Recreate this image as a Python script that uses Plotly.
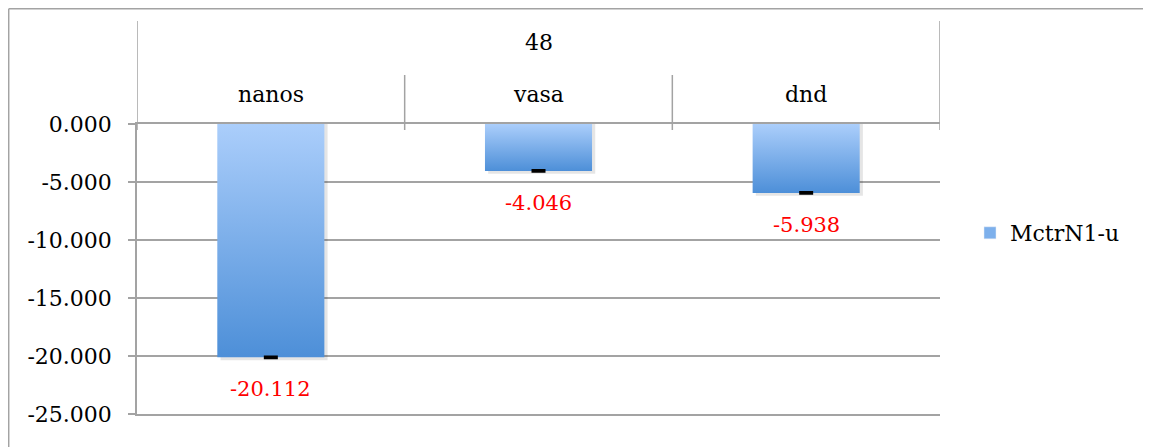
import plotly.graph_objects as go

# data
group_label = "48"
genes = ["nanos", "vasa", "dnd"]
values = [-20.112, -4.046, -5.938]
errors = [0.05, 0.05, 0.05]
series_name = "MctrN1-u"
y_ticks = [0, -5, -10, -15, -20, -25]

FONT = "DejaVu Serif"
GRID = "#a3a3a3"
OFF = 8  # page body margin
W, H = 1151 - OFF, 447 - OFF
L, R, T, B = 137 - OFF, 211, 124 - OFF, 33
PW, PH = W - L - R, H - T - B


def px_x(x):
    # page pixel -> paper x
    return (x - OFF - L) / PW


def px_y(y):
    # page pixel -> paper y
    return (H - B - (y - OFF)) / PH


fig = go.Figure()

half = 0.2
for i, (g, v) in enumerate(zip(genes, values)):
    # soft shadow
    fig.add_trace(go.Scatter(
        x=[i - half + 0.012, i - half + 0.012, i + half + 0.012, i + half + 0.012],
        y=[0, v - 0.25, v - 0.25, 0], fill="toself", mode="lines",
        line=dict(width=0), fillcolor="rgba(0,0,0,0.10)",
        hoverinfo="skip", showlegend=False))
    fig.add_trace(go.Scatter(
        x=[i - half, i - half, i + half, i + half],
        y=[0, v, v, 0], fill="toself", mode="lines",
        line=dict(width=0),
        fillgradient=dict(type="vertical",
                          colorscale=[[0, "#4d8fd8"], [1, "#abcefb"]]),
        name=series_name, showlegend=False, hoverinfo="skip"))

# error bars
fig.add_trace(go.Scatter(
    x=list(range(len(genes))), y=values, mode="markers",
    marker=dict(size=1, opacity=0),
    error_y=dict(type="data", array=errors, color="black", thickness=2.5, width=7),
    showlegend=False, hoverinfo="skip"))

# legend entry
fig.add_trace(go.Bar(x=[None], y=[None], name=series_name,
                     marker=dict(color="#7db0ec")))

annotations = []
for i, v in enumerate(values):
    annotations.append(dict(x=i, y=v, xref="x", yref="y", text=f"{v:.3f}",
                            showarrow=False, yanchor="top", yshift=-18,
                            font=dict(family=FONT, size=21, color="#ff0000")))
for i, g in enumerate(genes):
    annotations.append(dict(x=i, y=px_y(95), xref="x", yref="paper", text=g,
                            showarrow=False, yanchor="middle",
                            font=dict(family=FONT, size=22, color="black")))
annotations.append(dict(x=(len(genes) - 1) / 2, y=px_y(42), xref="x", yref="paper",
                        text=group_label, showarrow=False, yanchor="middle",
                        font=dict(family=FONT, size=22, color="black")))

shapes = []
line_style = dict(color=GRID, width=1.5)
for k in range(len(genes) + 1):
    xb = k - 0.5
    top = px_y(21) if k in (0, len(genes)) else px_y(75)
    shapes.append(dict(type="line", xref="x", yref="paper", x0=xb, x1=xb,
                       y0=px_y(130), y1=top, line=line_style))
# outer chart border
shapes.append(dict(type="line", xref="paper", yref="paper", x0=px_x(8.7), x1=px_x(8.7),
                   y0=px_y(8.7), y1=px_y(447), line=line_style))
shapes.append(dict(type="line", xref="paper", yref="paper", x0=px_x(8.7), x1=px_x(1151),
                   y0=px_y(8.7), y1=px_y(8.7), line=line_style))

fig.update_layout(
    width=W, height=H,
    margin=dict(l=L, r=R, t=T, b=B),
    paper_bgcolor="white", plot_bgcolor="white",
    font=dict(family=FONT, size=22, color="black"),
    xaxis=dict(range=[-0.5, len(genes) - 0.5], showticklabels=False, showgrid=False,
               zeroline=False, showline=True, mirror=True, side="top",
               linecolor=GRID, linewidth=1.5, fixedrange=True),
    yaxis=dict(range=[-25, 0], tickvals=y_ticks,
               ticktext=[f"{t:.3f}" for t in y_ticks],
               showgrid=True, gridcolor=GRID, gridwidth=1.5, zeroline=False,
               showline=True, linecolor=GRID, linewidth=1.5, ticks="outside",
               ticklen=7, tickcolor=GRID, tickwidth=1.5, ticklabelstandoff=12,
               fixedrange=True, tickfont=dict(family=FONT, size=22)),
    legend=dict(x=px_x(970), y=px_y(233), xanchor="left", yanchor="middle",
                font=dict(family=FONT, size=22), bgcolor="rgba(0,0,0,0)"),
    showlegend=True,
    annotations=annotations, shapes=shapes,
)

fig.write_html("out.html")
